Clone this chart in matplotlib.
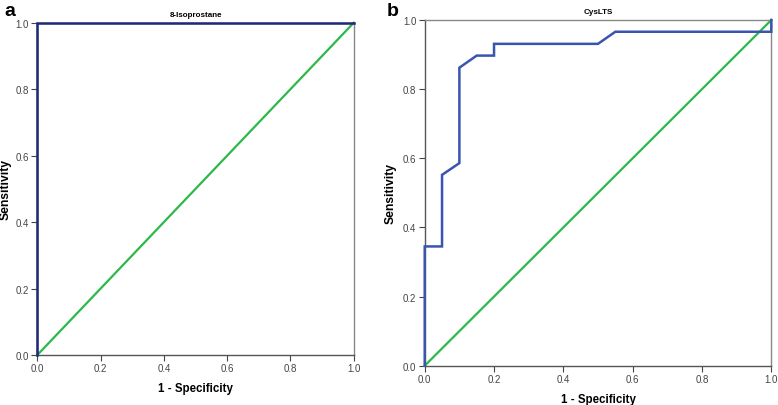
import matplotlib
matplotlib.use("Agg")
import matplotlib.pyplot as plt

# Data
fpr_a = [0.0, 0.0, 1.0]
tpr_a = [0.0, 1.0, 1.0]
fpr_b = [0.0, 0.0, 0.05, 0.05, 0.10, 0.10, 0.15, 0.20, 0.20, 0.50, 0.55, 1.0, 1.0]
tpr_b = [0.0, 0.345, 0.345, 0.552, 0.586, 0.862, 0.897, 0.897, 0.931, 0.931, 0.966, 0.966, 1.0]
ref_line = [0.0, 1.0]
ticks = [0.0, 0.2, 0.4, 0.6, 0.8, 1.0]
tick_labels = ["0.0", "0.2", "0.4", "0.6", "0.8", "1.0"]
titles = ["8-Isoprostane", "CysLTS"]
panel_letters = ["a", "b"]

plt.rcParams['font.family'] = ['Liberation Sans', 'DejaVu Sans']

fig = plt.figure(figsize=(7.78, 4.06), dpi=100)
ax_a = fig.add_axes([0.048, 0.1232, 0.4067, 0.8184])
ax_b = fig.add_axes([0.5459, 0.0968, 0.4455, 0.8515])

green = "#2db84a"
curves = [(ax_a, fpr_a, tpr_a, "#1c2a78", -0.082), (ax_b, fpr_b, tpr_b, "#3a55ad", -0.082)]
for i, (ax, x, y, col, ylx) in enumerate(curves):
    ax.plot(ref_line, ref_line, color=green, lw=1.6, zorder=2, clip_on=False)
    ax.plot(x, y, color=col, lw=1.8, zorder=3, clip_on=False, solid_joinstyle='miter')
    ax.set_xlim(0, 1)
    ax.set_ylim(0, 1)
    ax.set_xticks(ticks)
    ax.set_xticklabels(tick_labels)
    ax.set_yticks(ticks)
    ax.set_yticklabels(tick_labels)
    ax.tick_params(labelsize=7, labelcolor="#444444", color="#444444", length=4.5, width=0.8, pad=1.5)
    for s in ["left", "bottom"]:
        ax.spines[s].set_color("#555555")
        ax.spines[s].set_linewidth(1.0)
    for s in ["top", "right"]:
        ax.spines[s].set_color("#888888")
        ax.spines[s].set_linewidth(1.0)
    ax.set_title(titles[i], fontsize=5.8, fontweight="bold", pad=5)
    ax.set_xlabel("1 - Specificity", fontsize=8.3, fontweight="bold", labelpad=6.5)
    ax.set_ylabel("Sensitivity", fontsize=8.7, fontweight="bold")
    ax.yaxis.set_label_coords(ylx, 0.5)

fig.text(0.006, 0.972, panel_letters[0], fontsize=14, fontweight="bold", va="center", ha="left")
fig.text(0.497, 0.972, panel_letters[1], fontsize=14, fontweight="bold", va="center", ha="left")

fig.savefig("out.png", dpi=100)
